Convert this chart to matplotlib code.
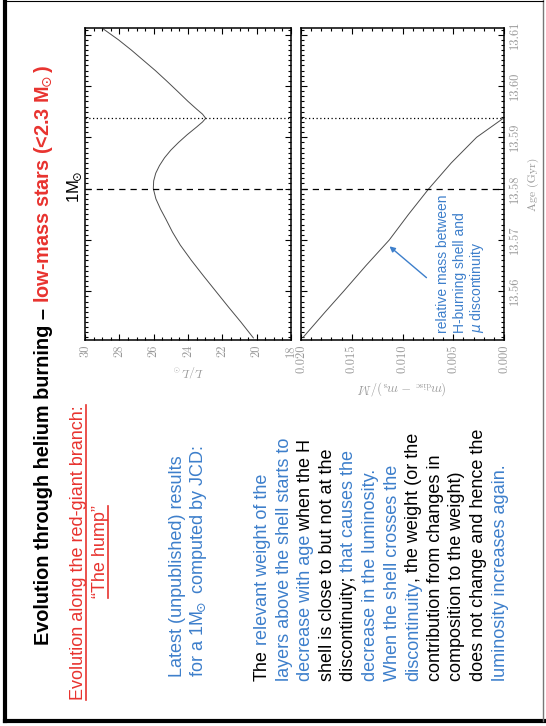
import matplotlib
matplotlib.use("Agg")
import matplotlib.pyplot as plt
from matplotlib.lines import Line2D
from matplotlib.ticker import MultipleLocator, FormatStrFormatter

# Données (âge en Gyr)
age_lum = [13.5509, 13.5540, 13.5570, 13.5600, 13.5630, 13.5660, 13.5690, 13.5715,
           13.5740, 13.5760, 13.5780, 13.5800, 13.5815, 13.5830, 13.5845, 13.5860,
           13.5875, 13.5890, 13.5905, 13.5920, 13.5930, 13.5937, 13.5945, 13.5955,
           13.5970, 13.5990, 13.6010, 13.6030, 13.6050, 13.6070, 13.6090, 13.6112]
lum = [20.19, 20.92, 21.66, 22.38, 23.10, 23.80, 24.45, 24.90,
       25.28, 25.60, 25.87, 26.02, 26.00, 25.88, 25.66, 25.37,
       25.00, 24.55, 24.05, 23.50, 23.15, 22.97, 23.15, 23.50,
       24.00, 24.62, 25.25, 25.90, 26.60, 27.30, 28.05, 28.97]

age_dm = [13.5510, 13.5560, 13.5600, 13.5650, 13.5700, 13.5750, 13.5800, 13.5850,
          13.5900, 13.5938]
dm = [0.0198, 0.0176, 0.0158, 0.0136, 0.0113, 0.0094, 0.0074, 0.0052, 0.0027, 0.0]

age_dash = 13.58
age_dot = 13.5937
age_lim = (13.5505, 13.6113)
lum_lim = (30, 18)
dm_lim = (0.020, 0.000)

arrow_tip = (0.01149, 13.5691)
arrow_tail = (0.00743, 13.5623)

RED = "#e8332f"
BLUE = "#3d7fcb"
GREY = "#9a9a9a"
SANS = "Liberation Sans"
SUN = r"$\mathregular{M}_{\!\!\odot}$"

W, H = 546, 726


def fx(x):
    return x / W


def fy(y):
    return 1 - y / H


fig = plt.figure(figsize=(W / 100, H / 100), dpi=100)
renderer = fig.canvas.get_renderer()


def text_width(s, size, weight="normal"):
    t = fig.text(0, 0, s, fontsize=size, fontweight=weight, family=SANS)
    w = t.get_window_extent(renderer=renderer).width
    t.remove()
    return w


# ligne de texte tournée de 90°, morceaux de couleurs différentes
def rot_line(x, y, parts, size, weight="normal"):
    prefix = ""
    ref = text_width("x", size, weight)
    for s, c in parts:
        off = text_width(prefix + "x", size, weight) - ref if prefix else 0
        fig.text(fx(x), fy(y - off), s, color=c, fontsize=size, fontweight=weight,
                 family=SANS, rotation=90, rotation_mode="anchor",
                 ha="left", va="baseline")
        prefix += s
    return text_width(prefix, size, weight)


# --- panneaux ---
ax1 = fig.add_axes([fx(85), fy(340), 206 / W, 312 / H])
ax2 = fig.add_axes([fx(301), fy(340), 203 / W, 312 / H])

ax1.plot(lum, age_lum, color="#4d4d4d", lw=0.7)
ax2.plot(dm, age_dm, color="#4d4d4d", lw=0.7)

for ax in (ax1, ax2):
    ax.axhline(age_dash, color="black", lw=0.9, ls=(0, (5, 4)))
    ax.axhline(age_dot, color="black", lw=0.9, ls=(0, (1, 2)))
    ax.set_ylim(*age_lim)
    ax.yaxis.set_major_locator(MultipleLocator(0.01))
    ax.yaxis.set_minor_locator(MultipleLocator(0.001))
    ax.tick_params(which="both", direction="in", top=True, right=True,
                   labelsize=9, labelcolor=GREY, width=0.8)
    ax.tick_params(which="major", length=4)
    ax.tick_params(which="minor", length=2.2)
    for sp in ax.spines.values():
        sp.set_linewidth(1.1)

ax1.set_xlim(*lum_lim)
ax1.xaxis.set_major_locator(MultipleLocator(2))
ax1.xaxis.set_minor_locator(MultipleLocator(0.5))
ax1.tick_params(labelleft=False, labelright=False)

ax2.set_xlim(*dm_lim)
ax2.xaxis.set_major_locator(MultipleLocator(0.005))
ax2.xaxis.set_minor_locator(MultipleLocator(0.001))
ax2.xaxis.set_major_formatter(FormatStrFormatter("%.3f"))
ax2.yaxis.set_major_formatter(FormatStrFormatter("%.2f"))
ax2.tick_params(labelleft=False, labelright=True)

for ax in (ax1, ax2):
    for lab in ax.get_xticklabels():
        lab.set_rotation(90)
        lab.set_family("cmr10")
for lab in ax2.get_yticklabels():
    lab.set_rotation(90)
    lab.set_family("cmr10")
    lab.set_va("center")

ax2.annotate("", xy=arrow_tip, xytext=arrow_tail,
             arrowprops=dict(arrowstyle="-|>", color=BLUE, lw=1, mutation_scale=8))

# libellés des axes
fig.text(fx(188), fy(371), r"$L/L_\odot$", math_fontfamily="cm", fontsize=8.5,
         color=GREY, rotation=180, rotation_mode="anchor", ha="center", va="center")
fig.text(fx(402), fy(388), r"$(m_{\rm disc}\,-\,m_{\rm s})/M$", math_fontfamily="cm",
         fontsize=9, color=GREY, rotation=180, rotation_mode="anchor",
         ha="center", va="center")
fig.text(fx(533), fy(184), "Age (Gyr)", family="cmr10", fontsize=8.5, color=GREY,
         rotation=90, rotation_mode="anchor", ha="center", va="center")
fig.text(fx(79), fy(187), "1" + SUN, family=SANS, fontsize=12,
         rotation=90, rotation_mode="anchor", ha="center", va="baseline")

# annotation dans le panneau du bas
for i, s in enumerate(["relative mass between", "H-burning shell and",
                       r"$\mu$ discontinuity"]):
    rot_line(447 + 17 * i, 333, [(s, BLUE)], 10)

# --- texte de la diapositive ---
rot_line(49, 645, [("Evolution through helium burning \u2013 ", "black"),
                   ("low-mass stars (<2.3 " + SUN + ")", RED)], 14.3, "bold")

w = rot_line(83, 700, [("Evolution along the red-giant branch:", RED)], 13)
fig.add_artist(Line2D([fx(86), fx(86)], [fy(700), fy(700 - w)], color=RED, lw=1.2))
w = text_width("\u201cThe hump\u201d", 13)
rot_line(105, 552 + w / 2, [("\u201cThe hump\u201d", RED)], 13)
fig.add_artist(Line2D([fx(108), fx(108)], [fy(552 + w / 2), fy(552 - w / 2)],
                      color=RED, lw=1.2))

rot_line(182, 677, [("Latest (unpublished) results", BLUE)], 13)
rot_line(203, 677, [("for a 1" + SUN + " computed by JCD:", BLUE)], 13)

body = [
    [("The", "black"), (" relevant weight of the", BLUE)],
    [("layers above the shell starts to", BLUE)],
    [("decrease with age", BLUE), (" when the H", "black")],
    [("shell is close to but not at the", "black")],
    [("discontinuity; ", "black"), ("that causes the", BLUE)],
    [("decrease in the luminosity.", BLUE)],
    [("When the shell crosses the", BLUE)],
    [("discontinuity", BLUE), (", the weight (or the", "black")],
    [("contribution from changes in", "black")],
    [("composition to the weight)", "black")],
    [("does not change and hence the", "black")],
    [("luminosity increases again.", BLUE)],
]
for i, parts in enumerate(body):
    rot_line(267 + 21.6 * i, 681, parts, 13)

# cadre de la diapositive
fig.add_artist(Line2D([fx(5), fx(5)], [fy(0), fy(721)], color="black", lw=3))
fig.add_artist(Line2D([fx(5), fx(546)], [fy(721), fy(721)], color="black", lw=3))
fig.add_artist(Line2D([fx(543), fx(543)], [fy(0), fy(721)], color="#777777", lw=1))
fig.add_artist(Line2D([fx(5), fx(543)], [fy(0.5), fy(0.5)], color="black", lw=0.8))

fig.savefig("out.png", dpi=100)
